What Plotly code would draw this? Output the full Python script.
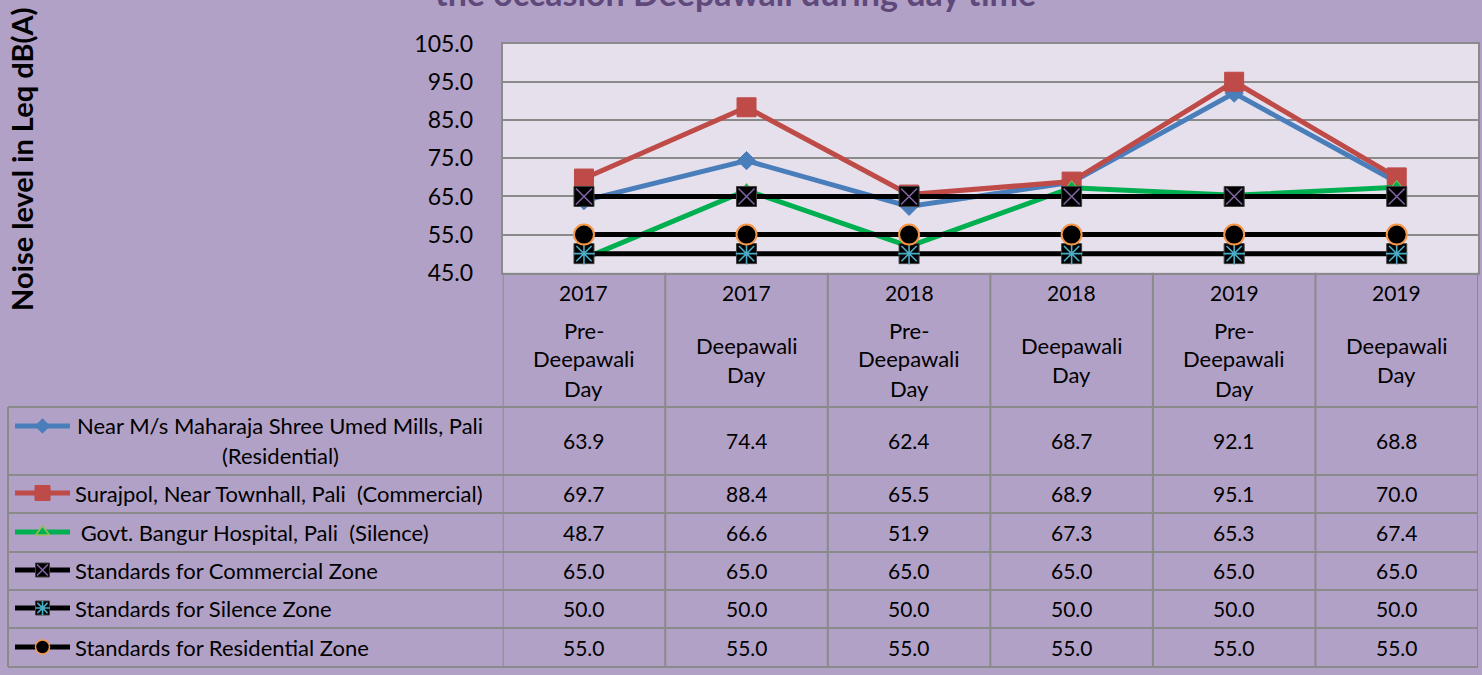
import plotly.graph_objects as go

W, H = 1482, 675

# ---------------- data ----------------
categories = ["2017 Pre-Deepawali Day", "2017 Deepawali Day",
              "2018 Pre-Deepawali Day", "2018 Deepawali Day",
              "2019 Pre-Deepawali Day", "2019 Deepawali Day"]
years = ["2017", "2017", "2018", "2018", "2019", "2019"]
occasion_lines = [["Pre-", "Deepawali", "Day"], ["Deepawali", "Day"],
                  ["Pre-", "Deepawali", "Day"], ["Deepawali", "Day"],
                  ["Pre-", "Deepawali", "Day"], ["Deepawali", "Day"]]

umed_mills = [63.9, 74.4, 62.4, 68.7, 92.1, 68.8]
surajpol = [69.7, 88.4, 65.5, 68.9, 95.1, 70.0]
bangur_hospital = [48.7, 66.6, 51.9, 67.3, 65.3, 67.4]
std_commercial = [65.0, 65.0, 65.0, 65.0, 65.0, 65.0]
std_silence = [50.0, 50.0, 50.0, 50.0, 50.0, 50.0]
std_residential = [55.0, 55.0, 55.0, 55.0, 55.0, 55.0]

series_labels = [
    ["Near M/s Maharaja Shree Umed Mills, Pali", "(Residential)"],
    ["Surajpol, Near Townhall, Pali  (Commercial)"],
    [" Govt. Bangur Hospital, Pali  (Silence)"],
    ["Standards for Commercial Zone"],
    ["Standards for Silence Zone"],
    ["Standards for Residential Zone"],
]
series_values = [umed_mills, surajpol, bangur_hospital,
                 std_commercial, std_silence, std_residential]

y_ticks = [45.0, 55.0, 65.0, 75.0, 85.0, 95.0, 105.0]

# ---------------- style ----------------
BG = "#B2A1C7"
PLOT_BG = "#E5E0EC"
GRID = "#8A8A8A"
BLUE = "#4A7EBB"
RED = "#BE4B48"
GREEN = "#00B050"
PURPLE = "#8064A2"
CYAN = "#4BACC6"
ORANGE = "#F79646"
FONT = "Lato, 'Open Sans', sans-serif"
TXT = 22
VAL = 21

def px(x):
    return x / W

def py(y):
    return 1 - y / H

PL, PR, PT, PB = 502.7, 1478.0, 44.0, 272.7
xs = list(range(len(categories)))

fig = go.Figure()

def add_series(vals, color, lw, symbol, size, mcolor, mline_color, mline_w, name):
    fig.add_trace(go.Scatter(
        x=xs, y=vals, mode="lines+markers", name=name,
        line=dict(color=color, width=lw),
        marker=dict(symbol=symbol, size=size, color=mcolor,
                    line=dict(color=mline_color, width=mline_w)),
        showlegend=False, xaxis="x", yaxis="y", cliponaxis=False))

def add_overlay(vals, symbol, size, color, xa="x", ya="y", xv=None):
    fig.add_trace(go.Scatter(
        x=xv if xv is not None else xs, y=vals, mode="markers",
        marker=dict(symbol=symbol, size=size, color=color,
                    line=dict(color=color, width=1.6)),
        showlegend=False, hoverinfo="skip", xaxis=xa, yaxis=ya,
        cliponaxis=False))

add_series(umed_mills, BLUE, 5, "diamond", 14, BLUE, BLUE, 1, "Near M/s Maharaja Shree Umed Mills, Pali (Residential)")
add_series(surajpol, RED, 5, "square", 19, RED, RED, 1, "Surajpol, Near Townhall, Pali (Commercial)")
add_series(bangur_hospital, GREEN, 5, "triangle-up", 14, GREEN, "#9BBB59", 1, "Govt. Bangur Hospital, Pali (Silence)")
add_series(std_commercial, "black", 5, "square", 20, "black", "#404040", 1, "Standards for Commercial Zone")
add_overlay(std_commercial, "x-thin", 16, PURPLE)
add_series(std_silence, "black", 5, "square", 20, "black", "#404040", 1, "Standards for Silence Zone")
add_overlay(std_silence, "asterisk", 18, CYAN)
add_series(std_residential, "black", 5, "circle", 20, "black", ORANGE, 2, "Standards for Residential Zone")

# ---------------- legend keys in table (pixel overlay axes) ----------------
row_bounds = [407, 475, 513, 552, 590, 628, 667]
row_centers = [440, 493, 532, 570, 608, 647]
key_specs = [
    (BLUE, "diamond", 11, BLUE, BLUE, 1, None),
    (RED, "square", 15, RED, RED, 1, None),
    (GREEN, "triangle-up", 12, GREEN, "#9BBB59", 1.5, None),
    ("black", "square", 14, "black", "#404040", 1, ("x-thin", 11, PURPLE)),
    ("black", "square", 14, "black", "#404040", 1, ("asterisk", 12, CYAN)),
    ("black", "circle", 14, "black", ORANGE, 1.5, None),
]
key_y = [426, 493, 532, 570, 608, 647]
for (lc, sym, sz, mc, mlc, mlw, ov), ky in zip(key_specs, key_y):
    fig.add_trace(go.Scatter(
        x=[15, 70], y=[ky, ky], mode="lines", line=dict(color=lc, width=5),
        showlegend=False, hoverinfo="skip", xaxis="x2", yaxis="y2"))
    fig.add_trace(go.Scatter(
        x=[42.5], y=[ky], mode="markers",
        marker=dict(symbol=sym, size=sz, color=mc, line=dict(color=mlc, width=mlw)),
        showlegend=False, hoverinfo="skip", xaxis="x2", yaxis="y2"))
    if ov:
        add_overlay([ky], ov[0], ov[1], ov[2], xa="x2", ya="y2", xv=[42.5])

# ---------------- shapes: plot bg + table grid ----------------
shapes = []
shapes.append(dict(type="rect", xref="paper", yref="paper",
                   x0=px(PL), x1=px(PR), y0=py(PB), y1=py(PT),
                   fillcolor=PLOT_BG, line=dict(width=0), layer="below"))
LINE = dict(color=GRID, width=2)
for b in [i - 0.5 for i in range(len(categories) + 1)]:
    shapes.append(dict(type="line", xref="x", yref="paper", x0=b, x1=b,
                       y0=py(PB), y1=py(row_bounds[-1]), line=LINE))
shapes.append(dict(type="line", xref="paper", yref="paper", x0=px(8), x1=px(8),
                   y0=py(row_bounds[0]), y1=py(row_bounds[-1]), line=LINE))
for rb in row_bounds:
    shapes.append(dict(type="line", xref="paper", yref="paper", x0=px(8), x1=px(PR),
                       y0=py(rb), y1=py(rb), line=LINE))

# ---------------- annotations ----------------
ann = []
def txt(size=TXT, color="black"):
    return dict(size=size, color=color, family=FONT)

for i, (yr, lines) in enumerate(zip(years, occasion_lines)):
    ann.append(dict(x=i, xref="x", y=py(292), yref="paper", text=yr,
                    xanchor="center", yanchor="middle", showarrow=False, font=txt(VAL)))
    ys = [330, 359, 388] if len(lines) == 3 else [345.5, 374.5]
    for t, yy in zip(lines, ys):
        ann.append(dict(x=i, xref="x", y=py(yy), yref="paper", text=t,
                        xanchor="center", yanchor="middle", showarrow=False, font=txt()))
for vals, rc in zip(series_values, row_centers):
    for i, v in enumerate(vals):
        ann.append(dict(x=i, xref="x", y=py(rc), yref="paper", text=f"{v:.1f}",
                        xanchor="center", yanchor="middle", showarrow=False, font=txt(VAL)))
ann.append(dict(x=px(280), y=py(425), xref="paper", yref="paper", xanchor="center",
                yanchor="middle", text=series_labels[0][0], showarrow=False, font=txt()))
ann.append(dict(x=px(280), y=py(455), xref="paper", yref="paper", xanchor="center",
                yanchor="middle", text=series_labels[0][1], showarrow=False, font=txt()))
for lab, rc in zip(series_labels[1:], row_centers[1:]):
    t = lab[0].replace("  ", " &nbsp;")
    if t.startswith(" "):
        t = "&nbsp;" + t[1:]
    ann.append(dict(x=px(73), y=py(rc), xref="paper", yref="paper", xanchor="left",
                    yanchor="middle", text=t, showarrow=False, font=txt()))
# y-axis title
ann.append(dict(x=px(22), y=py(159), xref="paper", yref="paper", textangle=-90,
                xanchor="center", yanchor="middle",
                text="<b>Noise level in Leq dB(A)</b>", showarrow=False,
                font=dict(size=29, color="black", family=FONT)))
# chart title (cut at the top edge, as in the reference)
ann.append(dict(x=px(735), y=py(-8), xref="paper", yref="paper",
                xanchor="center", yanchor="middle",
                text="<b>the occasion Deepawali during day time</b>",
                showarrow=False,
                font=dict(size=34, color="#5F497A", family=FONT)))

fig.update_layout(
    template="none",
    width=W, height=H,
    margin=dict(l=0, r=0, t=0, b=0, pad=0),
    paper_bgcolor=BG, plot_bgcolor="rgba(0,0,0,0)",
    shapes=shapes, annotations=ann,
    xaxis=dict(domain=[px(PL), px(PR)], range=[-0.5, 5.5], showticklabels=False,
               showgrid=False, zeroline=False, showline=True, mirror=True,
               linecolor=GRID, linewidth=2, fixedrange=True, automargin=False,
               ticks=""),
    yaxis=dict(domain=[py(PB), py(PT)], range=[45, 105], tickvals=y_ticks,
               tickformat=".1f", showgrid=True, gridcolor=GRID, gridwidth=2,
               zeroline=False, showline=True, mirror=True, linecolor=GRID,
               linewidth=2, ticks="", ticklabelstandoff=23, automargin=False,
               tickfont=dict(size=23, color="black", family=FONT), fixedrange=True),
    xaxis2=dict(domain=[0, 1], range=[0, W], visible=False, anchor="y2",
                fixedrange=True, automargin=False),
    yaxis2=dict(domain=[0, 1], range=[H, 0], visible=False, anchor="x2",
                fixedrange=True, automargin=False),
    showlegend=False,
)

fig.write_html("out.html", config={"displayModeBar": False},
               post_script="document.body.style.margin='0';")
